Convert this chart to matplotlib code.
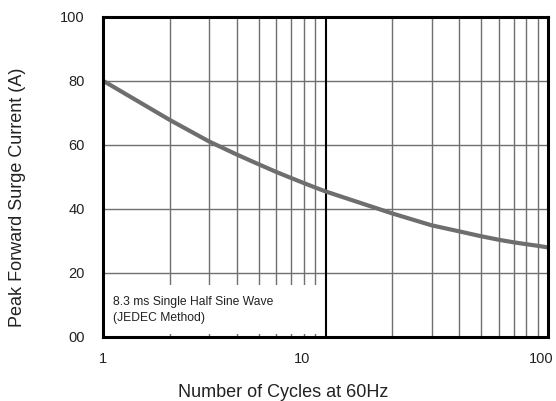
import matplotlib
matplotlib.use("Agg")
import matplotlib.pyplot as plt
import matplotlib.transforms as mtransforms
from matplotlib.patches import Rectangle
from matplotlib.ticker import LogLocator, NullFormatter

plt.rcParams['font.family'] = ['Liberation Sans', 'DejaVu Sans']

# surge current curve
cycles = [1, 2, 3, 4, 5, 6, 7, 8, 9, 10, 20, 30, 40, 50, 60, 70, 80, 90, 100]
current = [80.0, 67.7, 61.0, 56.9, 53.9, 51.5, 49.6, 48.0, 46.6, 45.4,
           38.5, 34.8, 32.9, 31.4, 30.3, 29.5, 28.9, 28.4, 27.9]

xticks = [1, 10, 100]
xticklabels = ['1', '10', '100']
yticks = [0, 20, 40, 60, 80, 100]
yticklabels = ['00', '20', '40', '60', '80', '100']

fig = plt.figure(figsize=(5.56, 4.01), dpi=100)
ax = fig.add_axes([103/556, 1-336.7/401, 445/556, 320/401])

ax.set_xscale('log')
ax.set_xlim(1, 100)
ax.set_ylim(0, 100)

ax.set_xticks(xticks)
ax.set_xticklabels(xticklabels)
ax.xaxis.set_minor_locator(LogLocator(base=10, subs=range(2, 10)))
ax.xaxis.set_minor_formatter(NullFormatter())
ax.set_yticks(yticks)
ax.set_yticklabels(yticklabels)

ax.tick_params(which='both', length=0)
ax.tick_params(axis='y', pad=13, labelsize=10.5, labelcolor='#222222')
ax.tick_params(axis='x', pad=11, labelsize=10.5, labelcolor='#222222')

ax.set_axisbelow(True)
ax.grid(which='minor', axis='x', color='#707070', lw=1.0)
ax.grid(which='major', axis='y', color='#707070', lw=1.0)
for t in xticks[1:-1]:
    ax.axvline(t, color='black', lw=1.5, zorder=2)

for s in ax.spines.values():
    s.set_linewidth(2.2)
    s.set_color('black')
    s.set_zorder(5)

# note box in the lower left
ax.add_patch(Rectangle((1, 0.7), 9.7, 15.6, facecolor='white',
                       edgecolor='none', zorder=1.5))
ax.text(0.0225, (336.7-305)/320, '8.3 ms Single Half Sine Wave',
        transform=ax.transAxes, fontsize=8.7, va='baseline', color='#222222', zorder=4)
ax.text(0.0225, (336.7-320.7)/320, '(JEDEC Method)',
        transform=ax.transAxes, fontsize=8.7, va='baseline', color='#222222', zorder=4)

ax.plot(cycles, current, color='#6e6e6e', lw=3.0, zorder=3, solid_capstyle='butt',
        solid_joinstyle='round')

# the tick labels sit left of their grid lines in the original
shifts = [0, -23, -7]
for lab, dx in zip(ax.get_xticklabels(), shifts):
    lab.set_transform(lab.get_transform() +
                      mtransforms.ScaledTranslation(dx/100, 0, fig.dpi_scale_trans))

fig.text(283/556, 1-397/401, 'Number of Cycles at 60Hz', ha='center', va='baseline',
         fontsize=13, color='#222222')
fig.text(18/556, 1-197.5/401, 'Peak Forward Surge Current (A)', ha='center', va='center',
         rotation=90, fontsize=13, color='#222222')

fig.savefig('out.png', dpi=100)
